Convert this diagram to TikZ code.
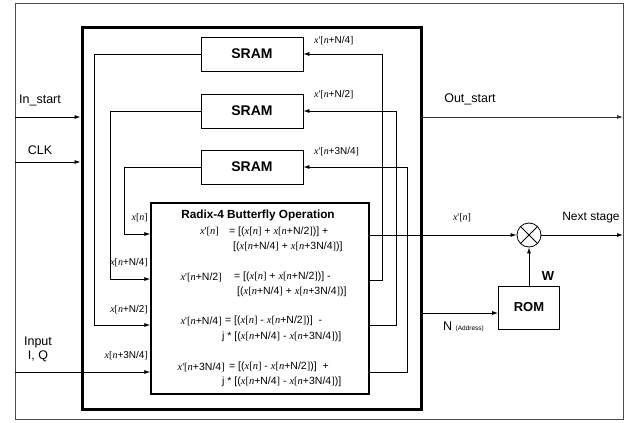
\documentclass[tikz,border=0pt]{standalone}
\usepackage{fontspec}
\setmainfont{Liberation Sans}
\newfontfamily\tms{Liberation Serif}
\usetikzlibrary{arrows.meta}
% signal names: x[n...] and x'[n...]
\newcommand{\sig}[1]{{\tms\textit{x}[\textit{n}}#1{\tms]}}
\newcommand{\sigp}[1]{{\tms\textit{x}\textquotesingle[\textit{n}}#1{\tms]}}
\begin{document}
\begin{tikzpicture}[x=1pt, y=-1pt,
    wire/.style={draw=black, line width=0.8pt},
    arr/.style={wire, -{Latex[length=6pt,width=4pt]}},
    unit/.style={draw=black, line width=0.8pt, inner sep=0pt,
        font=\fontsize{14}{16}\selectfont\bfseries},
    lbl/.style={inner sep=0pt, font=\fontsize{12.5}{14}\selectfont},
    sgl/.style={inner sep=0pt, font=\fontsize{10}{11}\selectfont},
    eqn/.style={inner sep=0pt, font=\fontsize{10.5}{12}\selectfont}]
    \useasboundingbox (0,0) rectangle (638,423);
    \draw[draw=black!70, line width=1pt] (15,3) rectangle (623,419);
    % processor block
    \node[draw=black, line width=3pt, inner sep=0pt, minimum width=339pt, minimum height=382pt] (core) at (251.5,218) {};
    \node[unit, minimum width=102pt, minimum height=34pt] (sram1) at (252,54) {SRAM};
    \node[unit, minimum width=102pt, minimum height=34pt] (sram2) at (252,111) {SRAM};
    \node[unit, minimum width=102pt, minimum height=34pt] (sram3) at (252,167) {SRAM};
    \node[draw=black, line width=1.4pt, inner sep=0pt, minimum width=218pt, minimum height=191pt] (bfly) at (260,298.5) {};
    \node[inner sep=0pt, font=\fontsize{11.8}{13}\selectfont\bfseries] (title) at (258,215) {Radix-4 Butterfly Operation};
    % equations
    \node[eqn, anchor=east] (l1) at (219,232) {\sigp{}};
    \node[eqn, anchor=west] (r1) at (229,232) {= [(\sig{} + \sig{+N/2})] +};
    \node[eqn, anchor=west] (c1) at (233,247) {[(\sig{+N/4} + \sig{+3N/4})]};
    \node[eqn, anchor=east] (l2) at (222,277) {\sigp{+N/2}};
    \node[eqn, anchor=west] (r2) at (234,277) {= [(\sig{} + \sig{+N/2})] -};
    \node[eqn, anchor=west] (c2) at (237,292) {[(\sig{+N/4} + \sig{+3N/4})]};
    \node[eqn, anchor=east] (l3) at (222,321) {\sigp{+N/4}};
    \node[eqn, anchor=west] (r3) at (225,321) {= [(\sig{} - \sig{+N/2})]\ \ -};
    \node[eqn, anchor=west] (c3) at (222,337) {j * [(\sig{+N/4} - \sig{+3N/4})]};
    \node[eqn, anchor=east] (l4) at (225,367) {\sigp{+3N/4}};
    \node[eqn, anchor=west] (r4) at (229,367) {= [(\sig{} - \sig{+N/2})]\ \ +};
    \node[eqn, anchor=west] (c4) at (222,382) {j * [(\sig{+N/4} - \sig{+3N/4})]};
    % memory read paths
    \draw[arr] (sram1.west) -- (94,54) -- (94,325) -- (bfly.west |- 0,325);
    \draw[arr] (sram2.west) -- (110,111) -- (110,279) -- (bfly.west |- 0,279);
    \draw[arr] (sram3.west) -- (124,167) -- (124,234) -- (bfly.west |- 0,234);
    \node[sgl, anchor=east] (in0) at (148,218) {\sig{}};
    \node[sgl, anchor=east] (in1) at (148,263) {\sig{+N/4}};
    \node[sgl, anchor=east] (in2) at (148,310) {\sig{+N/2}};
    \node[sgl, anchor=east] (in3) at (148,356) {\sig{+3N/4}};
    % memory write paths
    \draw[arr] (bfly.east |- 0,280) -- (382,280) -- (382,54) -- (sram1.east);
    \draw[arr] (bfly.east |- 0,325) -- (396,325) -- (396,111) -- (sram2.east);
    \draw[arr] (bfly.east |- 0,372) -- (407,372) -- (407,167) -- (sram3.east);
    \node[sgl, anchor=west] (out1) at (314,41) {\sigp{+N/4}};
    \node[sgl, anchor=west] (out2) at (314,95) {\sigp{+N/2}};
    \node[sgl, anchor=west] (out3) at (314,152) {\sigp{+3N/4}};
    % twiddle multiply
    \node[draw=black, circle, line width=0.8pt, inner sep=0pt, minimum size=24pt] (mul) at (529,235) {};
    \draw[wire] (mul.north west) -- (mul.south east);
    \draw[wire] (mul.north east) -- (mul.south west);
    \node[unit, font=\fontsize{13}{14}\selectfont\bfseries, minimum width=61pt, minimum height=43pt] (rom) at (529,307.5) {ROM};
    \node[inner sep=0pt, font=\fontsize{13}{14}\selectfont\bfseries] (wlbl) at (548,276) {W};
    \draw[arr] (rom.north) -- (mul.south);
    \draw[arr] (bfly.east |- mul.west) -- (mul.west);
    \node[sgl] (xo) at (462,218) {\sigp{}};
    \coordinate (nxt) at (623,235);
    \draw[arr] (mul.east) -- (nxt);
    \node[lbl, font=\fontsize{12}{14}\selectfont] (nxtlbl) at (591,218) {Next stage};
    \draw[arr] (core.east |- 0,313) -- (rom.west |- 0,313);
    \node[lbl, anchor=west] (addr) at (443,327) {N {\fontsize{6.5}{7}\selectfont(Address)}};
    % control signals
    \coordinate (outs) at (623,117);
    \draw[arr, draw=black!80] (core.east |- outs) -- (outs);
    \node[lbl] (outslbl) at (470,99) {Out\_start};
    \coordinate (ins) at (15,117);
    \draw[arr] (ins) -- (core.west |- ins);
    \node[lbl] (inslbl) at (40,100) {In\_start};
    \coordinate (clk) at (15,162);
    \draw[arr] (clk) -- (core.west |- clk);
    \node[lbl] (clklbl) at (40,150) {CLK};
    \coordinate (iq) at (15,372);
    \draw[arr] (iq) -- (bfly.west |- iq);
    \node[lbl, align=center] (iqlbl) at (38,349) {Input\\I, Q};
\end{tikzpicture}
\end{document}
